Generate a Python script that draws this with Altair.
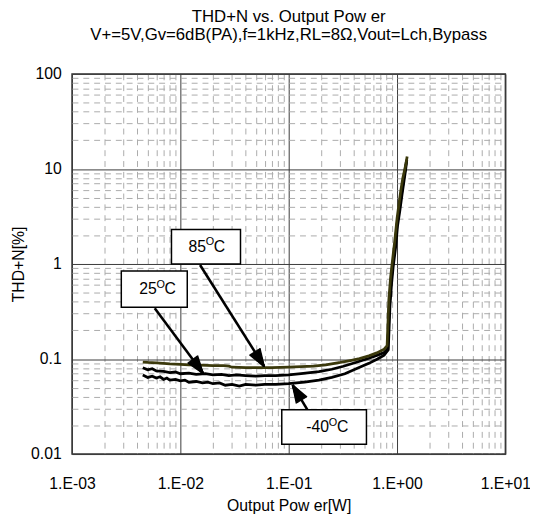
import math
import altair as alt
import pandas as pd

# ---------------- data ----------------
title_text = "THD+N vs. Output Pow er"
subtitle_text = "V+=5V,Gv=6dB(PA),f=1kHz,RL=8Ω,Vout=Lch,Bypass"
x_title = "Output Pow er[W]"
y_title = "THD+N[%]"

x_ticks = [0.001, 0.01, 0.1, 1, 10]
x_tick_labels = ["1.E-03", "1.E-02", "1.E-01", "1.E+00", "1.E+01"]
y_ticks = [0.01, 0.1, 1, 10, 100]
y_tick_labels = ["0.01", "0.1", "1", "10", "100"]

p85 = [0.0045, 0.005, 0.006, 0.007, 0.008, 0.01, 0.012, 0.015, 0.02, 0.025, 0.028, 0.03,
       0.04, 0.05, 0.07, 0.1, 0.13, 0.17, 0.22, 0.3, 0.38, 0.45, 0.55, 0.65, 0.76, 0.81,
       0.84, 0.87, 0.9, 0.95, 1.0, 1.04, 1.08, 1.13, 1.18, 1.21, 1.24]
thd85 = [0.093, 0.092, 0.091, 0.090, 0.089, 0.088, 0.087, 0.086, 0.085, 0.085, 0.084, 0.082,
         0.081, 0.081, 0.081, 0.082, 0.083, 0.084, 0.087, 0.092, 0.097, 0.101, 0.108, 0.116,
         0.127, 0.138, 0.42, 0.70, 1.0, 1.7, 3.0, 4.2, 5.8, 8.0, 10.0, 11.5, 13.5]

p25 = [0.0045, 0.005, 0.0055, 0.006, 0.007, 0.008, 0.009, 0.01, 0.012, 0.014, 0.017, 0.02,
       0.024, 0.028, 0.033, 0.04, 0.05, 0.06, 0.076, 0.1, 0.13, 0.19, 0.25, 0.32, 0.43, 0.55,
       0.66, 0.76, 0.82, 0.85, 0.88, 0.91, 0.96, 1.0, 1.05, 1.1, 1.15, 1.19, 1.22]
thd25 = [0.081, 0.077, 0.079, 0.075, 0.074, 0.072, 0.073, 0.070, 0.071, 0.069, 0.070, 0.068,
         0.069, 0.067, 0.068, 0.067, 0.066, 0.067, 0.067, 0.068, 0.070, 0.0735, 0.078, 0.084,
         0.093, 0.102, 0.110, 0.117, 0.128, 0.38, 0.65, 0.95, 1.6, 2.6, 3.8, 5.5, 7.8, 10.0, 12.0]

pm40 = [0.0045, 0.005, 0.0055, 0.006, 0.0065, 0.007, 0.0075, 0.008, 0.009, 0.01, 0.011, 0.012,
        0.014, 0.016, 0.018, 0.02, 0.023, 0.026, 0.03, 0.035, 0.04, 0.05, 0.06, 0.076, 0.1,
        0.14, 0.19, 0.25, 0.33, 0.43, 0.55, 0.66, 0.76, 0.83, 0.86, 0.89, 0.92, 0.97, 1.01,
        1.06, 1.11, 1.16, 1.2, 1.23]
thdm40 = [0.068, 0.064, 0.066, 0.063, 0.065, 0.061, 0.063, 0.060, 0.061, 0.059, 0.060, 0.057,
          0.058, 0.056, 0.057, 0.055, 0.056, 0.053, 0.054, 0.052, 0.054, 0.053, 0.054, 0.054,
          0.055, 0.057, 0.060, 0.064, 0.070, 0.080, 0.090, 0.100, 0.110, 0.125, 0.36, 0.62,
          0.92, 1.5, 2.5, 3.6, 5.3, 7.5, 9.8, 12.5]

# annotations (labels + callout boxes + arrows), in data coordinates
ann_num = ["85", "25", "-40"]
box_x1 = [0.00828, 0.00285, 0.0863]
box_x2 = [0.0359, 0.01158, 0.522]
box_y1 = [1.0, 0.35, 0.0127]
box_y2 = [2.31, 0.845, 0.0292]
text_x = [0.01875, 0.00658, 0.2564]
text_y = [1.5, 0.538, 0.019]
arrow_x1 = [0.0152, 0.0058, 0.149]
arrow_y1 = [0.976, 0.342, 0.0292]
arrow_x2 = [0.0593, 0.0162, 0.1086]
arrow_y2 = [0.0836, 0.0708, 0.0531]

# ---------------- layout / style ----------------
W, H = 440, 386
FONT = "Liberation Sans"
C85 = "#3b390c"
HEAD_LEN, HEAD_HALF_W = 18.0, 6.2
N_FAN = 13
FAN_OFFSETS = [-HEAD_HALF_W + i * (2 * HEAD_HALF_W / (N_FAN - 1)) for i in range(N_FAN)]

px_per_dec_x = W / 4.0
px_per_dec_y = H / 4.0

curves = pd.concat([
    pd.DataFrame({"p": pm40, "thd": thdm40, "s": "-40"}),
    pd.DataFrame({"p": p25, "thd": thd25, "s": "25"}),
    pd.DataFrame({"p": p85, "thd": thd85, "s": "85"}),
], ignore_index=True)

# arrowheads: a fan of short strokes from the tip to points across the head's base
head_rows = []
for i, (x1, y1, x2, y2) in enumerate(zip(arrow_x1, arrow_y1, arrow_x2, arrow_y2)):
    dx = (math.log10(x2) - math.log10(x1)) * px_per_dec_x
    dy = -(math.log10(y2) - math.log10(y1)) * px_per_dec_y
    ln = math.hypot(dx, dy)
    ux, uy = dx / ln, dy / ln
    for s in FAN_OFFSETS:
        ddx = -HEAD_LEN * ux - s * uy
        ddy = -HEAD_LEN * uy + s * ux
        bx = 10 ** (math.log10(x2) + ddx / px_per_dec_x)
        by = 10 ** (math.log10(y2) - ddy / px_per_dec_y)
        head_rows.append({"id": i, "tx": x2, "ty": y2, "bx": bx, "by": by})
heads_df = pd.DataFrame(head_rows)

ann = pd.DataFrame({
    "num": ann_num, "bx1": box_x1, "bx2": box_x2, "by1": box_y1, "by2": box_y2,
    "tx": text_x, "ty": text_y, "ax1": arrow_x1, "ay1": arrow_y1,
    "ax2": arrow_x2, "ay2": arrow_y2,
})

# axis values: majors + minor gridlines
x_minor = [round(m * 10.0 ** k, 8) for k in range(-3, 1) for m in range(2, 10)]
y_minor = [round(m * 10.0 ** k, 8) for k in range(-2, 2) for m in range(2, 10)]
x_vals = sorted(x_ticks + x_minor)
y_vals = sorted(y_ticks + y_minor)


def label_expr(vals, labels):
    expr = "''"
    for v, l in reversed(list(zip(vals, labels))):
        expr = f"abs(datum.value / {v} - 1) < 1e-6 ? '{l}' : ({expr})"
    return expr


major_test = "abs(log(datum.value) / LN10 - round(log(datum.value) / LN10)) < 1e-6"
grid_color = {"condition": {"test": major_test, "value": "#3a3a3a"}, "value": "#ababab"}
grid_dash = {"condition": {"test": major_test, "value": []}, "value": [6, 5]}

x_scale = alt.Scale(type="log", domain=[0.001, 10], nice=False)
y_scale = alt.Scale(type="log", domain=[0.01, 100], nice=False)

x_axis = alt.Axis(values=x_vals, labelExpr=label_expr(x_ticks, x_tick_labels),
                  title=x_title, grid=True, gridColor=grid_color, gridDash=grid_dash,
                  gridWidth=1, ticks=False, tickSize=0, domain=False,
                  labelOverlap=False, labelFlush=False, labelPadding=22, titlePadding=6)
y_axis = alt.Axis(values=y_vals, labelExpr=label_expr(y_ticks, y_tick_labels),
                  title=y_title, grid=True, gridColor=grid_color, gridDash=grid_dash,
                  gridWidth=1, ticks=False, tickSize=0, domain=False,
                  labelOverlap=False, labelFlush=False, labelPadding=11, titlePadding=4)

lines = alt.Chart(curves).mark_line(strokeWidth=2.8).encode(
    x=alt.X("p:Q", scale=x_scale, axis=x_axis),
    y=alt.Y("thd:Q", scale=y_scale, axis=y_axis),
    color=alt.Color("s:N", scale=alt.Scale(domain=["-40", "25", "85"],
                                           range=["#000000", "#000000", C85]), legend=None),
    detail="s:N",
    order=alt.Order("p:Q"),
)

abase = alt.Chart(ann)

arrows = abase.mark_rule(color="black", strokeWidth=2.6).encode(
    x=alt.X("ax1:Q", scale=x_scale), y=alt.Y("ay1:Q", scale=y_scale),
    x2="ax2:Q", y2="ay2:Q",
)

heads = alt.Chart(heads_df).mark_rule(color="black", strokeWidth=1.6, strokeCap="butt").encode(
    x=alt.X("tx:Q", scale=x_scale), y=alt.Y("ty:Q", scale=y_scale),
    x2="bx:Q", y2="by:Q",
)

boxes = abase.mark_rect(fill="white", stroke="black", strokeWidth=1.5).encode(
    x=alt.X("bx1:Q", scale=x_scale), x2="bx2:Q",
    y=alt.Y("by1:Q", scale=y_scale), y2="by2:Q",
)

txt_num = abase.mark_text(font=FONT, fontSize=16, align="right", baseline="middle",
                          dx=-4, color="black").encode(
    x=alt.X("tx:Q", scale=x_scale), y=alt.Y("ty:Q", scale=y_scale), text="num:N")
txt_o = abase.mark_text(font=FONT, fontSize=11, align="center", baseline="middle",
                        dy=-5, color="black").encode(
    x=alt.X("tx:Q", scale=x_scale), y=alt.Y("ty:Q", scale=y_scale), text=alt.value("O"))
txt_c = abase.mark_text(font=FONT, fontSize=16, align="left", baseline="middle",
                        dx=4, color="black").encode(
    x=alt.X("tx:Q", scale=x_scale), y=alt.Y("ty:Q", scale=y_scale), text=alt.value("C"))

chart = alt.layer(lines, arrows, heads, boxes, txt_num, txt_o, txt_c).properties(
    width=W, height=H,
    autosize="none",
    padding={"left": 65, "top": 63, "right": 25, "bottom": 60},
    title=alt.TitleParams(text=title_text, subtitle=subtitle_text, anchor="middle",
                          font=FONT, subtitleFont=FONT, fontSize=17, subtitleFontSize=17,
                          fontWeight="normal", color="black", subtitleColor="black",
                          subtitlePadding=2, offset=22),
).configure_view(
    stroke="#333333", strokeWidth=1.5
).configure_axis(
    labelFont=FONT, titleFont=FONT, labelFontSize=16, titleFontSize=16,
    labelColor="black", titleColor="black", titleFontWeight="normal",
)

chart.save("out.html", embed_options={"renderer": "svg", "actions": False})
